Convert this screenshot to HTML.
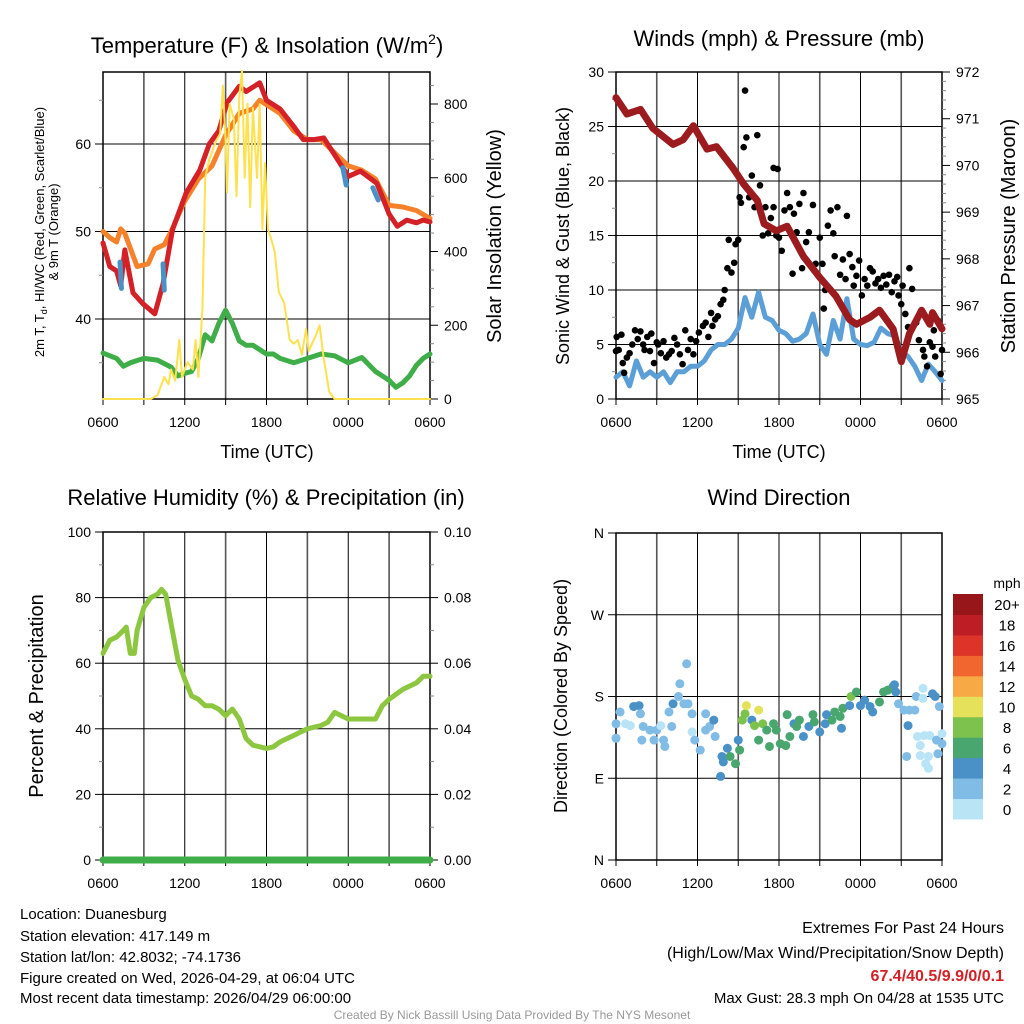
<!DOCTYPE html>
<html><head><meta charset="utf-8"><style>
html,body{margin:0;padding:0;background:#fff;}
svg{display:block;font-family:"Liberation Sans",sans-serif;}
.n{font-family:"Liberation Sans Narrow","Liberation Sans",sans-serif;}
</style></head><body>
<svg id="chart" width="1024" height="1024" viewBox="0 0 1024 1024" xmlns="http://www.w3.org/2000/svg">
<rect width="1024" height="1024" fill="#fff"/>
<g id="p1"></g>
<g id="p2"></g>
<g id="p3"></g>
<g id="p4"></g>
<g font-size="22" text-anchor="middle">
<text x="267" y="53">Temperature (F) &amp; Insolation (W/m<tspan font-size="14" dy="-9">2</tspan><tspan dy="9">)</tspan></text>
<text x="779" y="46">Winds (mph) &amp; Pressure (mb)</text>
<text x="266" y="505">Relative Humidity (%) &amp; Precipitation (in)</text>
<text x="779" y="505">Wind Direction</text>
</g>
<g font-size="18" text-anchor="middle">
<text x="267" y="458">Time (UTC)</text>
<text x="779" y="458">Time (UTC)</text>
<text transform="translate(44,232) rotate(-90)" font-size="13">2m T, T<tspan font-size="9" dy="3">d</tspan><tspan dy="-3">, HI/WC (Red, Green, Scarlet/Blue)</tspan></text>
<text transform="translate(58,232) rotate(-90)" font-size="13">&amp; 9m T (Orange)</text>
<text transform="translate(501,236) rotate(-90)" font-size="20">Solar Insolation (Yellow)</text>
<text transform="translate(569,236) rotate(-90)" font-size="18">Sonic Wind &amp; Gust (Blue, Black)</text>
<text transform="translate(1015,236) rotate(-90)" font-size="20">Station Pressure (Maroon)</text>
<text transform="translate(43,696) rotate(-90)" font-size="20">Percent &amp; Precipitation</text>
<text transform="translate(567,696) rotate(-90)" font-size="18">Direction (Colored By Speed)</text>
</g>
<g class="n" font-size="15">
<text x="20" y="919">Location: Duanesburg</text>
<text x="20" y="941">Station elevation: 417.149 m</text>
<text x="20" y="962">Station lat/lon: 42.8032; -74.1736</text>
<text x="20" y="983">Figure created on Wed, 2026-04-29, at 06:04 UTC</text>
<text x="20" y="1003">Most recent data timestamp: 2026/04/29 06:00:00</text>
</g>
<g class="n" font-size="16" text-anchor="end">
<text x="1004" y="933">Extremes For Past 24 Hours</text>
<text x="1004" y="958">(High/Low/Max Wind/Precipitation/Snow Depth)</text>
<text x="1004" y="981" fill="#d42027" font-weight="bold">67.4/40.5/9.9/0/0.1</text>
<text x="1004" y="1003" font-size="15">Max Gust: 28.3 mph On 04/28 at 1535 UTC</text>
</g>
<text x="512" y="1019" class="n" font-size="12" fill="#999" text-anchor="middle">Created By Nick Bassill Using Data Provided By The NYS Mesonet</text>
</svg>
<script>
// ---- data ----
const xTickLabels = ["0600","1200","1800","0000","0600"];
const tempHours = [0,0.5,1,1.3,1.6,2.2,2.9,3.8,4.4,5.1,6.1,7.1,7.8,8.5,9.1,10,10.5,11,11.5,12,13,14,14.7,15.5,16.2,16.9,18,18.9,20.1,21,21.6,22.3,23,23.5,24];
const tempRed   = [48.7,46,45.5,43.8,47.9,43,41.8,40.6,44,50.2,54.4,57,60,61.5,64.7,66.6,66,66.5,67,65,64,62,60.5,60.5,60.7,59,56.3,56.9,55.5,52,50.6,51.3,51,51.3,51.1];
const orangeHours = [0,0.5,1,1.3,1.6,2.5,3.3,3.8,4.5,5,6,7,8,9,10,11,11.5,12,13,14,15,16,17,18,19,20,21,22,23,24];
const tempOrange = [50,49.3,48.8,50.3,49.8,46,46.3,48,48.5,50,53.5,56,57.5,61,63.5,64,65,64.5,63.5,61.5,60.5,60.5,59,57.5,57,56,53,52.8,52.4,51.5];
const dewHours = [0,1,1.5,2,3,4,5,5.5,6,6.5,7,7.5,8,8.5,9,9.5,10,10.5,11,11.5,12,12.5,13,14,15,16,17,18,19,20,21,21.5,22,22.5,23,23.5,24];
const tempDew = [36.1,35.5,34.6,35,35.5,35.3,34.5,33.5,33.8,34,35.5,38.2,37.5,39.5,41,39.5,37.5,37,37,36.5,36,36,35.5,35,35.5,36,35.8,35,35.6,34,33,32.2,32.7,33.5,34.7,35.5,36];
const wcSegHours = [[1.25,1.35],[4.4,4.5],[17.6,17.85],[19.8,20.2]];
const wcSegTemps = [[46.5,43.5],[46.3,43.3],[57.3,55.3],[55,53.6]];
const solarHours = [0,3.5,4,4.5,4.8,5,5.3,5.6,5.8,6.2,6.6,6.8,7,7.3,7.5,7.8,8.3,8.6,8.8,9,9.1,9.3,9.6,9.8,10,10.2,10.4,10.6,10.8,11,11.3,11.5,11.7,11.9,12.1,12.3,12.6,12.9,13.3,13.7,14,14.3,14.6,14.9,15.1,15.6,15.9,16.2,16.6,17,24];
const solarVals = [0,0,10,60,40,80,50,160,60,100,80,160,60,250,600,650,700,720,850,700,560,800,760,550,820,890,600,800,520,790,600,800,460,640,460,440,400,290,260,160,150,160,120,190,130,170,200,110,20,0,0];

const windHours = [0,0.5,1,1.5,2,2.5,3,3.5,4,4.5,5,5.5,6,6.5,7,7.5,8,8.5,9,9.5,10,10.5,11,11.5,12,12.5,13,13.5,14,14.5,15,15.5,16,16.5,17,17.5,18,18.5,19,19.5,20,20.5,21,21.5,22,22.5,23,23.5,24];
const windVals = [2,2.5,1.2,3.5,2,2.5,2,2.5,1.5,2.5,2.5,3,3,3.5,4.5,5,5,5.5,6.5,9.3,7.5,9.8,7.5,7.2,6.3,6,5.3,5.5,6,7.8,5,4.1,7.2,5.5,9.2,5.5,5,4.9,5.2,6.5,6,5.8,4.4,3.9,3,1.7,3.2,2.5,1.7];
const presHours = [0,0.8,1.8,2.7,4.2,4.95,5.7,6.7,7.4,8.6,9.4,10.4,10.9,11.8,12.6,13.8,15,16.2,17.2,17.7,18.7,19.4,20.4,21,21.6,22.5,23.1,23.3,24];
const presVals = [971.45,971.1,971.2,970.8,970.45,970.55,970.85,970.35,970.4,969.95,969.6,969.25,968.75,968.6,968.7,968.05,967.6,967.2,966.7,966.6,966.75,966.9,966.5,965.8,966.4,966.9,966.6,966.85,966.5];
const gustHours = [0,0.05,0.2,0.4,0.5,0.6,0.8,1,1.2,1.4,1.6,1.8,2,2.1,2.3,2.5,2.6,2.8,3,3.1,3.3,3.5,3.7,3.9,4.1,4.3,4.5,4.7,4.9,5.1,5.3,5.5,5.7,5.9,6.1,6.4,6.6,6.8,7,7.1,7.3,7.5,7.7,7.9,8,8.2,8.3,8.5,8.7,8.8,9,9.1,9.2,9.4,9.5,9.6,9.8,10,10.2,10.4,10.6,10.8,11,11.2,11.4,11.6,11.6,11.8,11.9,12,12.2,12.4,12.6,12.8,13,13.1,13.3,13.5,13.7,13.8,14,14.2,14.5,14.7,15,15.2,15.3,15.4,15.6,15.8,16,16.1,16.3,16.5,16.7,16.9,17,17.2,17.4,17.5,17.7,17.9,18.1,18.3,18.5,18.7,18.9,19.1,19.3,19.5,19.7,19.9,20.1,20.3,20.5,20.7,20.8,21,21.1,21.3,21.5,21.6,21.8,22.1,22.3,22.6,22.7,22.9,23.1,23.3,23.4,23.5,23.7,23.9,24];
const gustVals = [4.4,5.7,4.5,5.9,3.3,2.4,3.8,4.2,5,6.3,5.5,6.2,5,4.5,5.7,4.4,6,3.3,5.2,5,4.2,5.3,3.8,4.1,4.4,5.6,5,4.1,3.2,6.3,4.5,5.5,4.1,5.3,6.1,6.7,7,5.7,7.9,6.7,7.3,7.6,8.7,9.1,10,12,14.6,11.6,12.5,14.2,14.6,18.5,18,23.1,28.3,24,18.5,20.5,17.6,24.2,19.6,15,17.6,15.2,16.6,21.2,17.6,15,21.1,14.8,13.6,17.3,18.9,17.6,11.5,17,15.3,17.9,12,18.9,14.4,15.3,17.8,12.4,14.8,12.4,8.3,10,15.9,17.3,15.2,13.1,17.6,11.4,12.8,11,16.8,13.3,12.1,10.4,11.3,12.7,9.5,11,10.4,12,11.7,10.6,11,10.2,11.3,10.5,11.4,9.8,10.8,11.2,9.5,8.7,10.4,7.8,6.6,12,10.1,7,5.4,4.5,3.9,3,5.2,4.8,6.3,3.9,7.2,2.3,4.5,3.8];

const rhHours = [0,0.5,1,1.5,1.7,2,2.3,2.5,3,3.5,4,4.3,4.6,5,5.5,6,6.5,7,7.5,8,8.5,9,9.5,10,10.5,11,11.5,12,12.5,13,14,15,16,16.5,17,17.5,18,19,20,20.5,21,22,23,23.5,24];
const rhVals = [63,67,68,70,71,63,63,70,77,80,81,82.5,81,72,61,55,50,49,47,47,46,44,46,43,37,35,34.5,34,34.5,36,38,40,41,42,45,44,43,43,43,47,49,52,54,56,56];
const precipHours = [0,24];
const precipVals = [0,0];

const dirHours = [0,0,0.3,0.7,1.05,1.3,1.7,1.8,2,1.9,2.5,2.8,3,3.3,3.5,3.6,3.9,4.1,4.2,4.6,4.7,5,5.2,5.3,5.6,5.6,5.8,6.2,6.6,6.6,6.9,7.2,7.3,7.8,7.7,7.9,8.2,8.4,8.8,9,9.1,9.3,9.5,9.6,10,10.2,10.5,10.5,10.8,11.1,11.3,11.6,11.8,12.1,12.5,12.6,12.8,13.1,13.3,13.5,13.8,14.2,14.5,14.6,15,15.4,15.5,15.9,16.1,16.5,16.6,16.7,17.2,17.3,17.7,18,18.3,18.7,18.9,19.4,19.7,20,20.4,20.5,20.6,20.8,21.2,21.5,21.4,21.6,22,22.1,22.2,22.4,22.4,22.6,22.6,22.7,22.8,23,23,23.1,23.3,23.5,23.6,23.7,23.8,24,24];
const dirDeg = [150,134,163,150,148,169,170,161,147,132,143,132,143,148,132,125,163,147,172,180,194,172,216,172,161,141,132,121,161,143,147,154,136,114,92,108,123,114,106,132,121,154,161,170,154,148,165,132,150,143,125,150,143,128,126,160,136,150,147,154,136,147,160,152,141,150,160,154,163,158,145,167,170,180,185,170,176,169,163,174,185,187,191,193,185,172,165,148,114,165,165,180,136,126,115,189,178,137,106,101,114,137,183,180,132,117,169,139,128];
const dirSpeed = [3,3,3,1,1,5,5,3,3,3,3,3,3,1,3,3,3,3,5,3,3,3,3,3,3,1,3,3,3,3,3,5,3,5,5,5,5,7,7,5,7,9,9,11,5,9,11,7,9,7,7,7,7,7,7,7,7,5,7,7,5,5,7,7,5,5,5,7,7,7,5,7,5,9,7,5,5,5,5,7,7,7,7,5,5,3,3,5,3,3,3,3,1,1,1,1,1,1,1,1,1,1,5,5,3,3,3,1,3];
const colorLevels = ["0","2","4","6","8","10","12","14","16","18","20+"];
const colorFills = ["#b9e4f6","#80bce5","#4a91c7","#49a66e","#7dc24d","#e6e15a","#f6a944","#f0662e","#dc3428","#bd1d25","#961619"];

// ---- helpers ----
const NS="http://www.w3.org/2000/svg";
function mk(parent,tag,attrs){const e=document.createElementNS(NS,tag);for(const k in attrs)e.setAttribute(k,attrs[k]);parent.appendChild(e);return e;}
function makeX(x0,x1){return h=>x0+(x1-x0)*h/24;}
function makeY(y0,y1,v0,v1){return v=>y0+(y1-y0)*(v-v0)/(v1-v0);}
function pathD(xs,ys,fx,fy){return xs.map((h,i)=>(i?"L":"M")+fx(h).toFixed(1)+","+fy(ys[i]).toFixed(1)).join("");}

function frame(g,L,R,T,B,name){
  const fx=makeX(L,R);
  for(let k=0;k<=8;k++){
    const x=fx(k*3);
    const ln=mk(g,"line",{x1:x,x2:x,y1:T,y2:B,stroke:k%2?"#555":"#000","stroke-width":k%2?1.6:1});
    
    
    const tk=mk(g,"line",{x1:x,x2:x,y1:B,y2:B+6,stroke:"#000","stroke-width":1});
    
    
  }
  xTickLabels.forEach((s,i)=>{
    const t=mk(g,"text",{x:fx(i*6),y:B+28,"font-size":14,"text-anchor":"middle"});
    t.textContent=s;
    
    
  });
  const r=mk(g,"rect",{x:L,y:T,width:R-L,height:B-T,fill:"none",stroke:"#000","stroke-width":1.5});
  
  
  return fx;
}
function yAxis(g,L,R,fy,majors,labels,minors,side,grid){
  const x=side==="L"?L:R, d=side==="L"?-1:1;
  majors.forEach((v,i)=>{
    const y=fy(v);
    if(grid){const gl=mk(g,"line",{x1:L,x2:R,y1:y,y2:y,stroke:"#000","stroke-width":1});
      
      }
    const tk=mk(g,"line",{x1:x,x2:x+d*8,y1:y,y2:y,stroke:"#000","stroke-width":1});
    
    
    const t=mk(g,"text",{x:x+d*(side==="L"?12:14),y:y+5,"font-size":14,"text-anchor":side==="L"?"end":"start"});
    t.textContent=labels[i];
    
    
  });
  minors.forEach(v=>{const y=fy(v);
    const tk=mk(g,"line",{x1:x,x2:x+d*4,y1:y,y2:y,stroke:"#888","stroke-width":1});
    
    });
}
function line(g,xs,ys,fx,fy,color,w,name){
  const p=mk(g,"path",{d:pathD(xs,ys,fx,fy),fill:"none",stroke:color,"stroke-width":w,"stroke-linejoin":"round","stroke-linecap":"round"});
  
  
}
function range(a,b,s){const r=[];for(let v=a;v<=b+1e-9;v+=s)r.push(+v.toFixed(3));return r;}

// ---- panel 1 ----
(function(){
  const g=document.getElementById("p1"),L=103,R=430,T=72,B=399;
  const fy=makeY(319,144,40,60), fs=makeY(399,104,0,800);
  const fx=frame(g,L,R,T,B,"temperature");
  yAxis(g,L,R,fy,[40,50,60],["40","50","60"],[35,45,55,65],"L",true);
  yAxis(g,L,R,fs,[0,200,400,600,800],["0","200","400","600","800"],range(50,850,50).filter(v=>v%200),"R",false);
  line(g,dewHours,tempDew,fx,fy,"#3fae49",5,"dewpoint-line");
  line(g,orangeHours,tempOrange,fx,fy,"#f5822a",5,"temp-9m-line");
  line(g,tempHours,tempRed,fx,fy,"#d42027",5,"temp-2m-line");
  wcSegHours.forEach((hs,i)=>line(g,hs,wcSegTemps[i],fx,fy,"#4a91c7",5,"windchill-segment"));
  line(g,solarHours,solarVals,fx,fs,"#fde14f",2,"insolation-line");
})();

// ---- panel 2 ----
(function(){
  const g=document.getElementById("p2"),L=616,R=942,T=72,B=399;
  const fy=makeY(399,72,0,30), fp=makeY(399,72,965,972);
  const fx=frame(g,L,R,T,B,"wind");
  yAxis(g,L,R,fy,[0,5,10,15,20,25,30],["0","5","10","15","20","25","30"],[2.5,7.5,12.5,17.5,22.5,27.5],"L",true);
  yAxis(g,L,R,fp,range(965,972,1),range(965,972,1).map(String),range(965.2,971.8,0.2).filter(v=>Math.abs(v-Math.round(v))>0.05),"R",false);
  line(g,windHours,windVals,fx,fy,"#5b9fd6",5,"sustained-wind-line");
  gustHours.forEach((h,i)=>{
    const c=mk(g,"circle",{cx:fx(h),cy:fy(gustVals[i]),r:3.3,fill:"#000"});
    
    
  });
  line(g,presHours,presVals,fx,fp,"#9b1b1e",7,"pressure-line");
})();

// ---- panel 3 ----
(function(){
  const g=document.getElementById("p3"),L=103,R=430,T=532,B=860;
  const fy=makeY(860,532,0,100), fpr=makeY(860,532,0,0.1);
  const fx=frame(g,L,R,T,B,"humidity");
  yAxis(g,L,R,fy,[0,20,40,60,80,100],["0","20","40","60","80","100"],[10,30,50,70,90],"L",true);
  yAxis(g,L,R,fpr,[0,0.02,0.04,0.06,0.08,0.1],["0.00","0.02","0.04","0.06","0.08","0.10"],[0.01,0.03,0.05,0.07,0.09],"R",false);
  line(g,rhHours,rhVals,fx,fy,"#8dc63f",5,"humidity-line");
  line(g,precipHours,precipVals,fx,fpr,"#3fae49",7,"precipitation-line");
})();

// ---- panel 4 ----
(function(){
  const g=document.getElementById("p4"),L=616,R=942,T=533,B=860;
  const fy=makeY(860,533,0,360);
  const fx=frame(g,L,R,T,B,"direction");
  yAxis(g,L,R,fy,[0,90,180,270,360],["N","E","S","W","N"],[],"L",true);
  dirHours.forEach((h,i)=>{
    const bin=Math.min(10,Math.floor(dirSpeed[i]/2));
    const c=mk(g,"circle",{cx:fx(h),cy:fy(dirDeg[i]),r:4.5,fill:colorFills[bin]});
    
    
  });
  const cb=mk(g,"g",{});
  
  
  const cbT=594,cbB=819,h=(cbB-cbT)/colorLevels.length;
  colorLevels.forEach((lab,i)=>{
    const y=cbB-(i+1)*h;
    const r=mk(cb,"rect",{x:953,y:y,width:30,height:h+0.5,fill:colorFills[i]});
    
    
    const t=mk(cb,"text",{x:1007,y:y+h/2+6,"font-size":15,"text-anchor":"middle"});
    t.textContent=lab;
    
    
  });
  const u=mk(cb,"text",{x:1007,y:588,"font-size":14,"text-anchor":"middle"});
  u.textContent="mph";
  
  
})();
</script>
</body></html>
